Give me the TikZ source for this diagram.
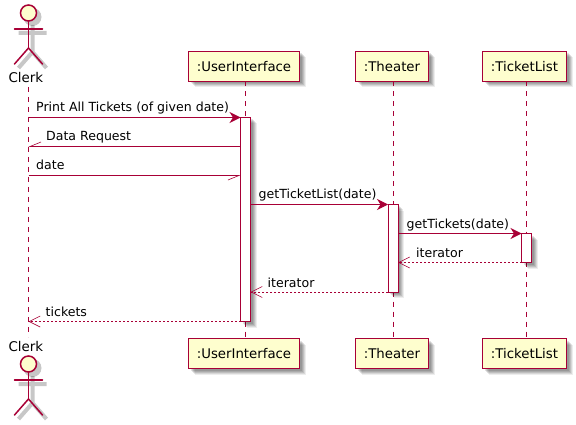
\documentclass[tikz,border=0pt]{standalone}
\usepackage{fontspec}
\setmainfont{DejaVu Sans}
\usetikzlibrary{arrows.meta,shadows,positioning,calc}
\definecolor{umlred}{HTML}{A80036}
\definecolor{umlfill}{HTML}{FEFECE}
\tikzset{
  softshadow/.style={
    general shadow={shadow xshift=6pt,shadow yshift=-6pt,fill=black,opacity=.07,draw=none},
    general shadow={shadow xshift=5pt,shadow yshift=-5pt,fill=black,opacity=.09,draw=none},
    general shadow={shadow xshift=4pt,shadow yshift=-4pt,fill=black,opacity=.11,draw=none},
    general shadow={shadow xshift=3pt,shadow yshift=-3pt,fill=black,opacity=.11,draw=none},
    general shadow={shadow xshift=2pt,shadow yshift=-2pt,fill=black,opacity=.11,draw=none}},
  participant/.style={softshadow,draw=umlred,fill=umlfill,line width=1.8pt,font=\fontsize{13.3}{16}\selectfont,
    minimum height=30pt,inner sep=0pt,outer sep=0pt,anchor=north west},
  activation/.style={softshadow,draw=umlred,fill=white,line width=1pt,minimum width=10pt,inner sep=0pt,outer sep=0pt,anchor=north west},
  lifeline/.style={draw=umlred,line width=1pt,dash pattern=on 5pt off 5pt},
  actorline/.style={draw=umlred,line width=1.5pt,line cap=round},
  actorshadow/.style={draw=black,opacity=.22,line width=4pt},
  headshadow/.style={fill=black,opacity=.22},
  msglabel/.style={font=\fontsize{12.55}{15}\selectfont,anchor=base west,inner sep=0pt},
  actorlabel/.style={font=\fontsize{13.4}{16}\selectfont,inner sep=0pt,anchor=base},
  sync/.style={draw=umlred,line width=1pt,-{Stealth[length=11pt,width=11pt,inset=3.5pt,fill=umlred]}},
  halfbarb/.style={draw=umlred,line width=1pt,-{Straight Barb[harpoon,right,length=11pt,width=9pt,line width=.6pt]}},
  reply/.style={draw=umlred,line width=1pt,dash pattern=on 2pt off 2pt,-{Straight Barb[length=11pt,width=11pt,line width=.6pt]}}
}
\newcommand{\stickman}[3]{% x, y of head centre, name prefix
  \begin{scope}[shift={(#1,#2)}]
    \fill[headshadow] (4,4) circle (9);
    \draw[actorshadow] (-10,20) -- (18,20) (4,12) -- (4,39) -- (-10,55) (4,39) -- (18,55);
    \node[circle,draw=umlred,fill=umlfill,line width=1.5pt,minimum size=16pt,inner sep=0pt,outer sep=0pt] (#3) at (0,0) {};
    \draw[actorline] (#3.south) -- (0,35) coordinate (#3hip);
    \draw[actorline] (-14,16) coordinate (#3la) -- (14,16) coordinate (#3ra);
    \draw[actorline] (-14,51) coordinate (#3ll) -- (#3hip) -- (14,51) coordinate (#3rl);
  \end{scope}}
\begin{document}
\begin{tikzpicture}[x=1pt,y=-1pt]
\useasboundingbox[fill=white] (0,0) rectangle (576,425);
% top / bottom participants
\node[actorlabel] (clerkT) at (25.8,83) {Clerk};
\node[actorlabel] (clerkB) at (25.8,351) {Clerk};
\coordinate (clerkTl) at (28.5,87);
\coordinate (clerkBl) at (28.5,337);
\node[participant,minimum width=111pt] (uiT) at (188.5,51.5) {:UserInterface};
\node[participant,minimum width=73pt] (thT) at (355.5,51.5) {:Theater};
\node[participant,minimum width=84pt] (tlT) at (482.5,51.5) {:TicketList};
\node[participant,minimum width=111pt] (uiB) at (188.5,338.5) {:UserInterface};
\node[participant,minimum width=73pt] (thB) at (355.5,338.5) {:Theater};
\node[participant,minimum width=84pt] (tlB) at (482.5,338.5) {:TicketList};
% lifelines
\draw[lifeline] ($(uiT.south)+(1.5,0)$) -- ($(uiB.north)+(1.5,0)$);
\draw[lifeline] ($(thT.south)+(1,0)$) -- ($(thB.north)+(1,0)$);
\draw[lifeline] ($(tlT.south)+(2,0)$) -- ($(tlB.north)+(2,0)$);
\draw[lifeline] (clerkTl) -- (clerkBl);
% actors
\stickman{28.5}{13}{headT}
\stickman{28.5}{364}{headB}
% activations
\node[activation,minimum height=204pt] (aui) at (240.5,117.5) {};
\node[activation,minimum height=87.5pt] (ath) at (388,204.5) {};
\node[activation,minimum height=29pt] (atl) at (521.5,233.5) {};
% messages
\coordinate (c1) at (28.5,117.5);
\coordinate (c2) at (28.5,146.5);
\coordinate (c3) at (28.5,175.5);
\coordinate (c8) at (28.5,321.5);
\draw[sync] (c1) -- (aui.north west);
\draw[halfbarb] ($(aui.north west)+(0,29)$) -- (c2);
\draw[halfbarb] (c3) -- ($(aui.north west)+(0,58)$);
\draw[sync] ($(aui.north east)+(0,87)$) -- (ath.north west);
\draw[sync] ($(ath.north east)+(0,29)$) -- (atl.north west);
\draw[reply] (atl.south west) -- ($(ath.north east)+(0,58)$);
\draw[reply] (ath.south west) -- ($(aui.north east)+(0,174.5)$);
\draw[reply] (aui.south west) -- (c8);
\node[msglabel] (l1) at (36,112) {Print All Tickets (of given date)};
\node[msglabel] (l2) at (46,141) {Data Request};
\node[msglabel] (l3) at (36,170) {date};
\node[msglabel] (l4) at (258.5,199) {getTicketList(date)};
\node[msglabel] (l5) at (406.5,228) {getTickets(date)};
\node[msglabel] (l6) at (416,257) {iterator};
\node[msglabel] (l7) at (267.5,287) {iterator};
\node[msglabel] (l8) at (45.5,316) {tickets};
\end{tikzpicture}
\end{document}
